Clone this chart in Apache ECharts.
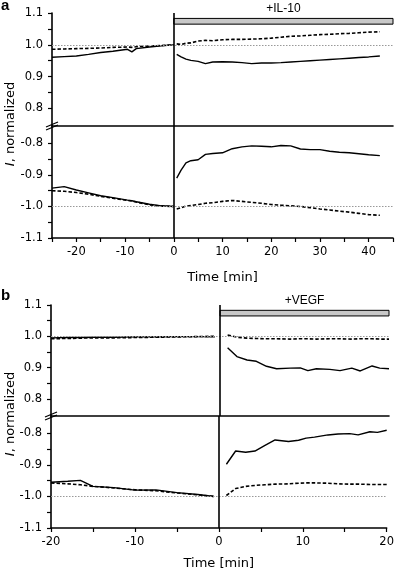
<!DOCTYPE html>
<html>
<head>
<meta charset="utf-8">
<script src="https://cdn.jsdelivr.net/npm/echarts@6/dist/echarts.min.js"></script>
<style>
  html, body { margin: 0; padding: 0; background: #fff; }
  #chart { width: 397px; height: 575px; }
</style>
</head>
<body>
<div id="chart"></div>
<script>
// panel a (IL-10), time in min
const aPreT = [-25, -22.5, -20, -17.5, -15, -12.5, -9.5, -8.6, -7.7, -5, -2.5, 0]
const aUpSolidPre = [0.961, 0.963, 0.965, 0.970, 0.976, 0.980, 0.986, 0.978, 0.988, 0.993, 0.997, 1.0]
const aUpDashPre = [0.986, 0.987, 0.988, 0.989, 0.990, 0.992, 0.993, 0.992, 0.994, 0.996, 0.998, 1.0]
const aLoSolidPre = [-0.942, -0.937, -0.948, -0.957, -0.966, -0.972, -0.980, -0.982, -0.985, -0.993, -0.998, -1.0]
const aLoDashPre = [-0.950, -0.952, -0.956, -0.961, -0.968, -0.974, -0.981, -0.983, -0.986, -0.995, -0.999, -1.0]

const aPostT = [0.6, 1.5, 2.5, 3.5, 5, 6.5, 8, 10, 12, 14, 16, 18, 20, 22, 24, 26, 28, 30, 32, 34, 36, 38, 40, 42.3]
const aUpSolidPost = [0.970, 0.962, 0.955, 0.951, 0.948, 0.941, 0.946, 0.947, 0.946, 0.944, 0.941, 0.943, 0.943, 0.944, 0.946, 0.948, 0.950, 0.952, 0.954, 0.956, 0.958, 0.960, 0.962, 0.965]
const aUpDashPost = [1.003, 1.001, 1.005, 1.006, 1.012, 1.014, 1.013, 1.016, 1.017, 1.017, 1.018, 1.019, 1.021, 1.024, 1.027, 1.028, 1.030, 1.032, 1.033, 1.035, 1.036, 1.038, 1.040, 1.041]
const aLoSolidPost = [-0.910, -0.885, -0.862, -0.855, -0.852, -0.835, -0.832, -0.830, -0.817, -0.811, -0.808, -0.809, -0.811, -0.807, -0.808, -0.818, -0.820, -0.820, -0.825, -0.828, -0.830, -0.833, -0.836, -0.839]
const aLoDashPost = [-1.008, -1.004, -0.999, -0.997, -0.994, -0.990, -0.988, -0.984, -0.981, -0.984, -0.987, -0.990, -0.994, -0.996, -0.998, -1.000, -1.004, -1.008, -1.011, -1.015, -1.018, -1.022, -1.026, -1.028]

// panel b (VEGF)
const bPreT = [-20, -18, -16.5, -15, -12.5, -10, -7.5, -5, -2.5, -0.6]
const bUpSolidPre = [0.995, 0.996, 0.996, 0.997, 0.997, 0.998, 0.998, 0.999, 0.999, 0.998]
const bUpDashPre = [0.992, 0.993, 0.994, 0.995, 0.995, 0.996, 0.997, 0.998, 0.999, 1.0]
const bLoSolidPre = [-0.955, -0.952, -0.949, -0.968, -0.972, -0.980, -0.979, -0.988, -0.994, -1.0]
const bLoDashPre = [-0.957, -0.960, -0.963, -0.968, -0.973, -0.979, -0.982, -0.989, -0.995, -1.0]

const bPostT = [0.9, 2, 3.2, 4.3, 5.5, 6.7, 8.3, 9.5, 10.4, 11.4, 13, 14.2, 15.6, 16.6, 18, 18.9, 20]
const bUpSolidPost = [0.963, 0.935, 0.924, 0.920, 0.904, 0.896, 0.898, 0.899, 0.890, 0.896, 0.894, 0.890, 0.898, 0.889, 0.905, 0.898, 0.896]
const bUpDashPost = [1.004, 0.997, 0.994, 0.993, 0.992, 0.992, 0.991, 0.992, 0.992, 0.991, 0.992, 0.992, 0.991, 0.992, 0.992, 0.991, 0.991]
const bLoSolidPost = [-0.898, -0.856, -0.860, -0.856, -0.838, -0.821, -0.826, -0.822, -0.815, -0.812, -0.805, -0.802, -0.801, -0.805, -0.795, -0.797, -0.790]
const bLoDashPost = [-0.997, -0.975, -0.968, -0.965, -0.963, -0.961, -0.960, -0.958, -0.957, -0.957, -0.958, -0.960, -0.961, -0.961, -0.962, -0.962, -0.962]

// axis ticks
const upLabels = [0.8, 0.9, 1.0, 1.1]
const upTicks = [0.8, 0.85, 0.9, 0.95, 1.0, 1.05, 1.1]
const loLabels = [-1.1, -1.0, -0.9, -0.8]
const loTicks = [-1.1, -1.05, -1.0, -0.95, -0.9, -0.85, -0.8]
const aXLabels = [-20, -10, 0, 10, 20, 30, 40]
const aXTicks = [-25, -20, -15, -10, -5, 0, 5, 10, 15, 20, 25, 30, 35, 40, 45]
const bXLabels = [-20, -10, 0, 10, 20]
const bXTicks = [-20, -15, -10, -5, 0, 5, 10, 15, 20]
const barLabels = ['+IL-10', '+VEGF']

const tickFont = { color: '#000', fontSize: 11.5, fontFamily: 'DejaVu Sans' }

const chart = echarts.init(document.getElementById('chart'))

const grids = [
  { left: 52, top: 13, width: 341, height: 113 },
  { left: 52, top: 126, width: 341, height: 112 },
  { left: 51, top: 305, width: 338, height: 111 },
  { left: 51, top: 416, width: 338, height: 112 },
]

// per grid: x range, upper/lower, ticks
const cfg = [
  { xmin: -25, xmax: 45, up: true, xLab: aXLabels, xTick: aXTicks, gap: 33 },
  { xmin: -25, xmax: 45, up: false, xLab: aXLabels, xTick: aXTicks, gap: 33 },
  { xmin: -20, xmax: 20, up: true, xLab: bXLabels, xTick: bXTicks, gap: 29 },
  { xmin: -20, xmax: 20, up: false, xLab: bXLabels, xTick: bXTicks, gap: 29 },
]

const xAxis = cfg.map((c, g) => ({
  gridIndex: g, type: 'value', min: c.xmin, max: c.xmax,
  axisLine: { show: true, onZero: false, lineStyle: { color: '#000', width: 1.6 } },
  axisTick: c.up ? { show: false } : { show: true, length: 4, customValues: c.xTick, lineStyle: { color: '#000', width: 1.2 } },
  axisLabel: c.up ? { show: false } : { ...tickFont, customValues: c.xLab, margin: 8 },
  splitLine: { show: false },
  name: c.up ? '' : 'Time [min]',
  nameLocation: 'middle',
  nameGap: c.gap,
  nameTextStyle: { color: '#000', fontSize: 13, fontFamily: 'DejaVu Sans' },
}))

const yAxis = cfg.map((c, g) => ({
  gridIndex: g, type: 'value',
  min: c.up ? 0.745 : -1.1,
  max: c.up ? 1.1 : -0.745,
  axisLine: { show: true, onZero: false, lineStyle: { color: '#000', width: 1.6 } },
  axisTick: { show: true, length: 4, customValues: c.up ? upTicks : loTicks, lineStyle: { color: '#000', width: 1.2 } },
  axisLabel: { ...tickFont, customValues: c.up ? upLabels : loLabels, formatter: (v) => v.toFixed(1), margin: 9 },
  splitLine: { show: false },
}))

const zip = (ts, vs) => ts.map((t, i) => [t, vs[i]])

function line(g, ts, vs, dashed, extra) {
  return {
    type: 'line',
    xAxisIndex: g,
    yAxisIndex: g,
    data: zip(ts, vs),
    symbol: 'none',
    silent: true,
    lineStyle: { color: '#000', width: dashed ? 1.6 : 1.4, type: dashed ? [3.5, 2] : 'solid' },
    z: 3,
    ...extra,
  }
}

function refLines(yRef) {
  return {
    markLine: {
      silent: true,
      symbol: 'none',
      label: { show: false },
      data: [
        { yAxis: yRef, lineStyle: { color: '#999', width: 1, type: [1.5, 1.5] } },
        { xAxis: 0, lineStyle: { color: '#000', width: 1.6, type: 'solid' } },
      ],
    },
  }
}

function bar(text, xEnd) {
  return {
    markArea: {
      silent: true,
      itemStyle: { color: '#c8c8c8', borderColor: '#000', borderWidth: 1 },
      label: { show: true, position: 'top', distance: 3, formatter: text, color: '#000', fontSize: 12, fontFamily: 'Liberation Sans' },
      data: [[{ coord: [0, 1.065] }, { coord: [xEnd, 1.083] }]],
    },
  }
}

const series = [
  // a upper
  line(0, aPreT, aUpSolidPre, false, { ...refLines(1.0), ...bar(barLabels[0], 45) }),
  line(0, aPreT, aUpDashPre, true),
  line(0, aPostT, aUpSolidPost, false),
  line(0, aPostT, aUpDashPost, true),
  // a lower
  line(1, aPreT, aLoSolidPre, false, refLines(-1.0)),
  line(1, aPreT, aLoDashPre, true),
  line(1, aPostT, aLoSolidPost, false),
  line(1, aPostT, aLoDashPost, true),
  // b upper
  line(2, bPreT, bUpSolidPre, false, { ...refLines(1.0), ...bar(barLabels[1], 20) }),
  line(2, bPreT, bUpDashPre, true),
  line(2, bPostT, bUpSolidPost, false),
  line(2, bPostT, bUpDashPost, true),
  // b lower
  line(3, bPreT, bLoSolidPre, false, refLines(-1.0)),
  line(3, bPreT, bLoDashPre, true),
  line(3, bPostT, bLoSolidPost, false),
  line(3, bPostT, bLoDashPost, true),
]

// axis break marks and labels
function breakMark(x, y) {
  return {
    type: 'group', z: 100,
    children: [
      { type: 'polygon', shape: { points: [[x - 6, y + 3], [x + 6, y - 2], [x + 6, y - 5], [x - 6, y]] }, style: { fill: '#fff' } },
      { type: 'line', shape: { x1: x - 6, y1: y + 3, x2: x + 6, y2: y - 2 }, style: { stroke: '#000', lineWidth: 1.3 } },
      { type: 'line', shape: { x1: x - 6, y1: y, x2: x + 6, y2: y - 5 }, style: { stroke: '#000', lineWidth: 1.3 } },
    ],
  }
}

function yName(y) {
  return {
    type: 'text', x: 11, y: y, rotation: Math.PI / 2,
    style: {
      text: '{i|I}, normalized',
      align: 'center', verticalAlign: 'middle',
      fontSize: 13, fontFamily: 'DejaVu Sans', fill: '#000',
      rich: { i: { fontStyle: 'italic', fontSize: 13, fontFamily: 'DejaVu Sans' } },
    },
  }
}

chart.setOption({
  animation: false,
  grid: grids,
  xAxis: xAxis,
  yAxis: yAxis,
  series: series,
  graphic: [
    breakMark(52, 127),
    breakMark(51, 417),
    yName(124),
    yName(414),
    { type: 'text', x: 1, y: 6, style: { text: 'a', fontSize: 15, fontWeight: 'bold', fontFamily: 'Liberation Sans', verticalAlign: 'middle', fill: '#000' } },
    { type: 'text', x: 1, y: 296, style: { text: 'b', fontSize: 15, fontWeight: 'bold', fontFamily: 'Liberation Sans', verticalAlign: 'middle', fill: '#000' } },
  ],
})
</script>
</body>
</html>
